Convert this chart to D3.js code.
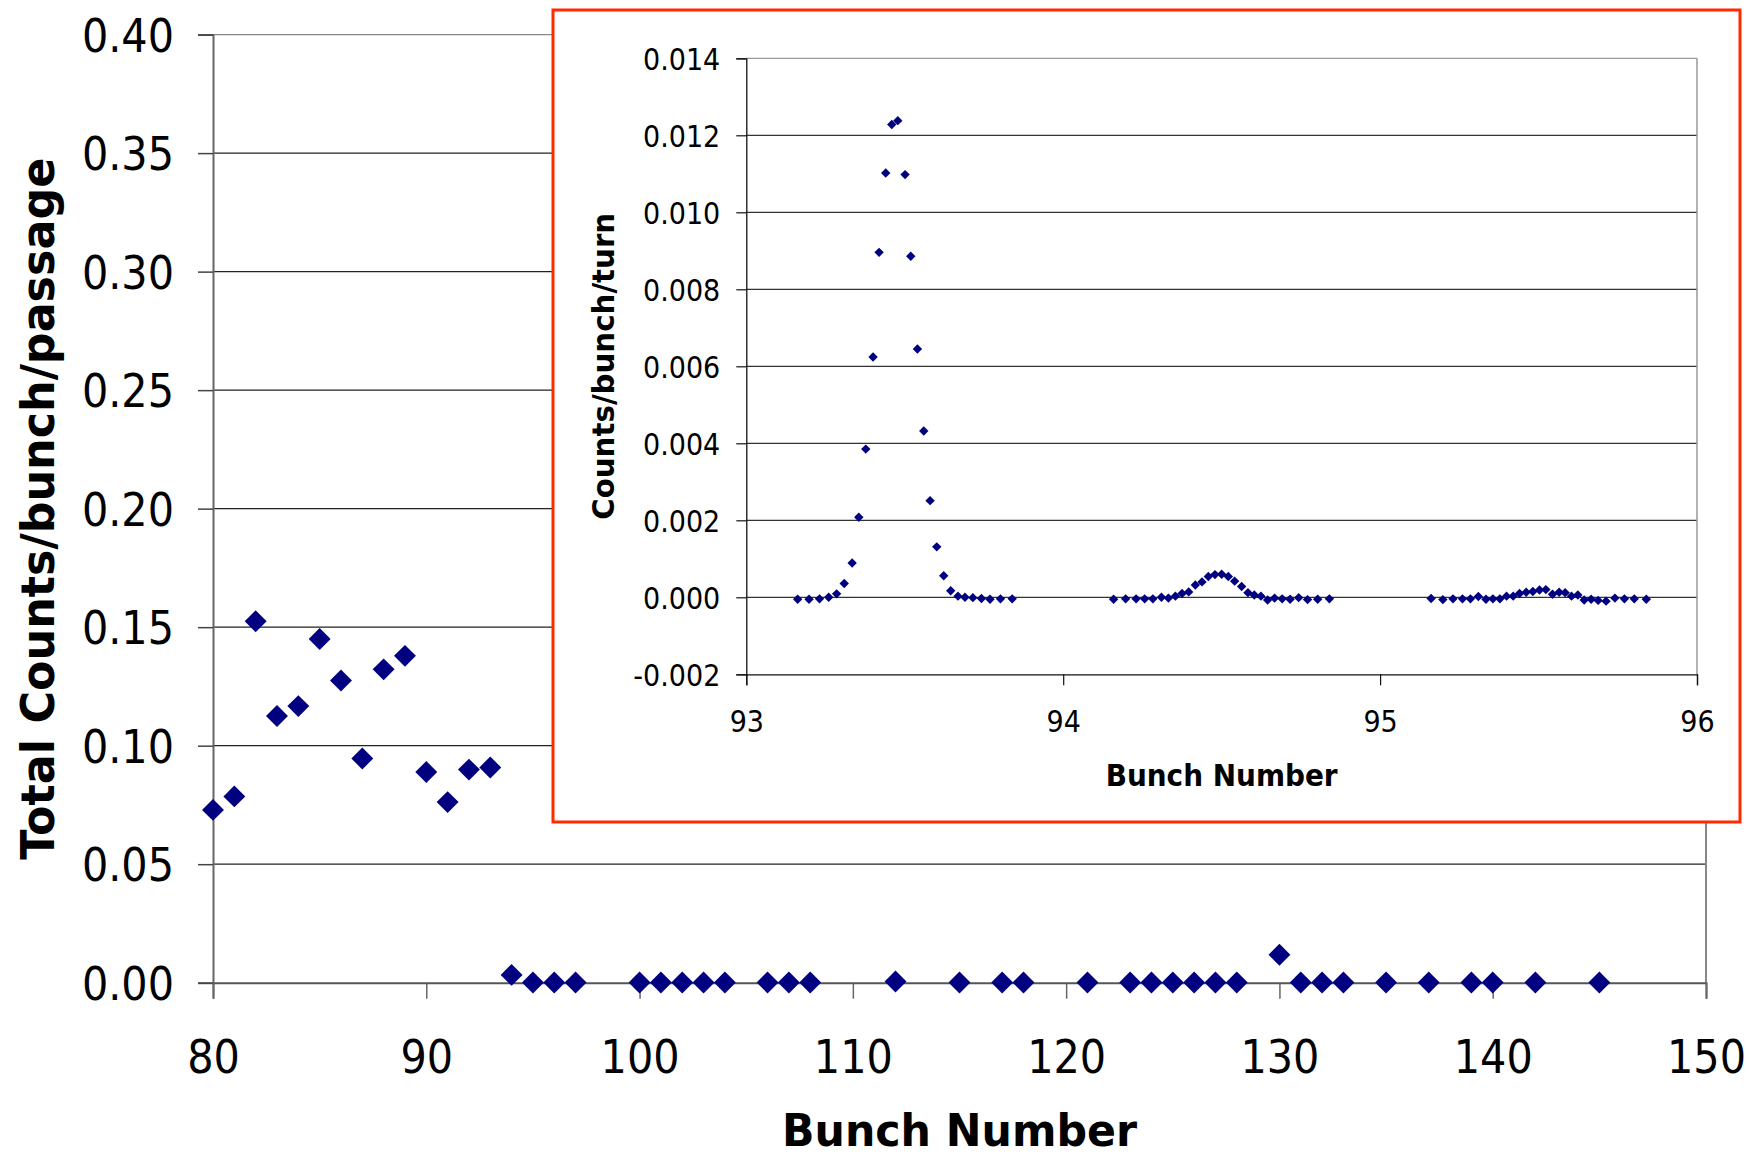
<!DOCTYPE html>
<html><head><meta charset="utf-8">
<script src="https://cdn.jsdelivr.net/npm/d3@7"></script>
<style>
html,body{margin:0;padding:0;background:#fff;}
svg{display:block;}
text{font-family:"DejaVu Sans Condensed","DejaVu Sans",sans-serif;font-stretch:condensed;fill:#000;}
</style></head><body>
<svg id="chart" width="1749" height="1157"></svg>
<script>
// ---- Main chart data ----
const mainBunch = [80,81,82,83,84,85,86,87,88,89,90,91,92,93,94,95,96,97,100,101,102,103,104,106,107,108,112,115,117,118,121,123,124,125,126,127,128,130,131,132,133,135,137,139,140,142,145];
const mainCounts = [0.0729,0.0786,0.1525,0.1125,0.1167,0.1450,0.1275,0.0946,0.1322,0.1379,0.0889,0.0762,0.0899,0.0908,0.0033,0.0001,0.0001,0.0001,0.0001,0.0001,0.0001,0.0001,0.0001,0.0001,0.0001,0.0001,0.0005,0.0001,0.0001,0.0001,0.0001,0.0001,0.0001,0.0001,0.0001,0.0001,0.0001,0.0118,0.0001,0.0001,0.0001,0.0001,0.0001,0.0001,0.0001,0.0001,0.0001];
const mainXTicks = [80,90,100,110,120,130,140,150];
const mainYTicks = [0,0.05,0.10,0.15,0.20,0.25,0.30,0.35,0.40];

// ---- Inset data ----
const insetBunch = [
 93.162,93.198,93.231,93.260,93.285,93.309,93.334,93.355,93.377,93.400,93.419,93.440,93.459,93.478,93.501,93.519,93.540,93.560,93.580,93.601,93.623,93.645,93.668,93.690,93.715,93.742,93.769,93.802,93.839,
 94.159,94.197,94.230,94.257,94.283,94.310,94.332,94.354,94.375,94.396,94.417,94.438,94.458,94.479,94.500,94.521,94.541,94.563,94.583,94.603,94.624,94.645,94.667,94.691,94.716,94.743,94.771,94.803,94.840,
 95.161,95.198,95.230,95.260,95.285,95.310,95.334,95.356,95.378,95.399,95.420,95.440,95.461,95.482,95.503,95.523,95.544,95.565,95.584,95.604,95.624,95.644,95.666,95.688,95.713,95.741,95.771,95.802,95.840];
const insetCounts = [
 -0.00005,-0.00005,-0.00004,0.00000,0.00009,0.00036,0.00089,0.00208,0.00385,0.00624,0.00896,0.01102,0.01228,0.01238,0.01098,0.00886,0.00645,0.00432,0.00251,0.00131,0.00056,0.00017,0.00003,0.00000,-0.00001,-0.00003,-0.00005,-0.00004,-0.00004,
 -0.00005,-0.00004,-0.00004,-0.00004,-0.00004,0.00000,-0.00002,0.00003,0.00010,0.00014,0.00032,0.00040,0.00054,0.00059,0.00060,0.00054,0.00042,0.00028,0.00012,0.00006,0.00003,-0.00007,-0.00002,-0.00004,-0.00005,-0.00001,-0.00006,-0.00005,-0.00004,
 -0.00003,-0.00006,-0.00004,-0.00004,-0.00004,0.00002,-0.00005,-0.00004,-0.00004,0.00003,0.00003,0.00010,0.00013,0.00015,0.00019,0.00020,0.00008,0.00013,0.00012,0.00003,0.00006,-0.00007,-0.00005,-0.00008,-0.00010,-0.00002,-0.00004,-0.00004,-0.00005];
const insetXTicks = [93,94,95,96];
const insetYTicks = [-0.002,0,0.002,0.004,0.006,0.008,0.010,0.012,0.014];

const svg = d3.select("#chart");
const navy = "#000080";
const hyph = f => (d => f(d).replace("\u2212","-"));

// ===== Main plot =====
const mL=213, mR=1706, mT=34.6, mB=982.7;
const x = d3.scaleLinear().domain([80,150]).range([mL,mR]);
const y = d3.scaleLinear().domain([0,0.40]).range([mB,mT]);

svg.append("g").selectAll("line").data(mainYTicks.filter(d=>d>0)).join("line")
  .attr("x1",mL).attr("x2",mR).attr("y1",d=>y(d)).attr("y2",d=>y(d))
  .attr("stroke",(d)=>d===0.40?"#888":"#222").attr("stroke-width",1.3);
svg.append("line").attr("x1",mR).attr("x2",mR).attr("y1",mT).attr("y2",mB).attr("stroke","#888").attr("stroke-width",2);

const yAxis = d3.axisLeft(y).tickValues(mainYTicks).tickFormat(d3.format(".2f")).tickSize(15).tickPadding(24);
const gy = svg.append("g").attr("transform",`translate(${mL},0)`).call(yAxis);
gy.select(".domain").attr("stroke","#666").attr("stroke-width",2);
gy.selectAll(".tick line").attr("stroke","#444").attr("stroke-width",1.5);
gy.selectAll("text").style("font-size","46px").attr("dy","0.36em");

const xAxis = d3.axisBottom(x).tickValues(mainXTicks).tickFormat(d3.format("d")).tickSize(16).tickPadding(74);
const gx = svg.append("g").attr("transform",`translate(0,${mB})`).call(xAxis);
gx.select(".domain").attr("stroke","#555").attr("stroke-width",2);
gx.selectAll(".tick line").attr("stroke","#666").attr("stroke-width",1.5);
gx.selectAll("text").style("font-size","46px").attr("dy","0");

svg.append("text").attr("x",(mL+mR)/2).attr("y",1146).attr("text-anchor","middle")
  .attr("textLength",355).attr("lengthAdjust","spacingAndGlyphs")
  .style("font-size","44px").style("font-weight","bold").text("Bunch Number");
svg.append("text").attr("transform",`translate(54,${(mT+mB)/2}) rotate(-90)`).attr("text-anchor","middle")
  .attr("textLength",702).attr("lengthAdjust","spacingAndGlyphs")
  .style("font-size","46px").style("font-weight","bold").text("Total Counts/bunch/passage");

const dMain = d3.symbol().type(d3.symbolSquare).size(240);
svg.append("g").selectAll("path").data(mainBunch.map((b,i)=>[b,mainCounts[i]])).join("path")
  .attr("d",dMain).attr("fill",navy)
  .attr("transform",d=>`translate(${x(d[0])},${y(d[1])}) rotate(45)`);

// ===== Inset =====
svg.append("rect").attr("x",553).attr("y",10).attr("width",1187).attr("height",812)
  .attr("fill","#fff").attr("stroke","#ff2a00").attr("stroke-width",3);

const iL=746.3, iR=1697, iT=58.3, iB=674.3;
const xi = d3.scaleLinear().domain([93,96]).range([iL,iR]);
const yi = d3.scaleLinear().domain([-0.002,0.014]).range([iB,iT]);

svg.append("g").selectAll("line").data(insetYTicks.filter(d=>d>-0.002)).join("line")
  .attr("x1",iL).attr("x2",iR).attr("y1",d=>yi(d)).attr("y2",d=>yi(d))
  .attr("stroke",d=>d===0.014?"#999":"#333").attr("stroke-width",1.2);
svg.append("line").attr("x1",iR).attr("x2",iR).attr("y1",iT).attr("y2",iB).attr("stroke","#999").attr("stroke-width",1.5);

const yAxisI = d3.axisLeft(yi).tickValues(insetYTicks).tickFormat(hyph(d3.format(".3f"))).tickSize(10).tickPadding(16);
const gyi = svg.append("g").attr("transform",`translate(${iL},0)`).call(yAxisI);
gyi.select(".domain").attr("stroke","#111").attr("stroke-width",1.3);
gyi.selectAll(".tick line").attr("stroke","#111").attr("stroke-width",1.2);
gyi.selectAll("text").style("font-size","30px").attr("dy","0.36em");

const xAxisI = d3.axisBottom(xi).tickValues(insetXTicks).tickFormat(d3.format("d")).tickSize(11).tickPadding(47);
const gxi = svg.append("g").attr("transform",`translate(0,${iB})`).call(xAxisI);
gxi.select(".domain").attr("stroke","#111").attr("stroke-width",1.3);
gxi.selectAll(".tick line").attr("stroke","#111").attr("stroke-width",1.2);
gxi.selectAll("text").style("font-size","30px").attr("dy","0");

svg.append("text").attr("x",(iL+iR)/2).attr("y",786).attr("text-anchor","middle")
  .attr("textLength",232).attr("lengthAdjust","spacingAndGlyphs")
  .style("font-size","30px").style("font-weight","bold").text("Bunch Number");
svg.append("text").attr("transform",`translate(614,${(iT+iB)/2}) rotate(-90)`).attr("text-anchor","middle")
  .attr("textLength",307).attr("lengthAdjust","spacingAndGlyphs")
  .style("font-size","30px").style("font-weight","bold").text("Counts/bunch/turn");

const dInset = d3.symbol().type(d3.symbolSquare).size(44);
svg.append("g").selectAll("path").data(insetBunch.map((b,i)=>[b,insetCounts[i]])).join("path")
  .attr("d",dInset).attr("fill",navy)
  .attr("transform",d=>`translate(${xi(d[0])},${yi(d[1])}) rotate(45)`);
</script>
</body></html>
